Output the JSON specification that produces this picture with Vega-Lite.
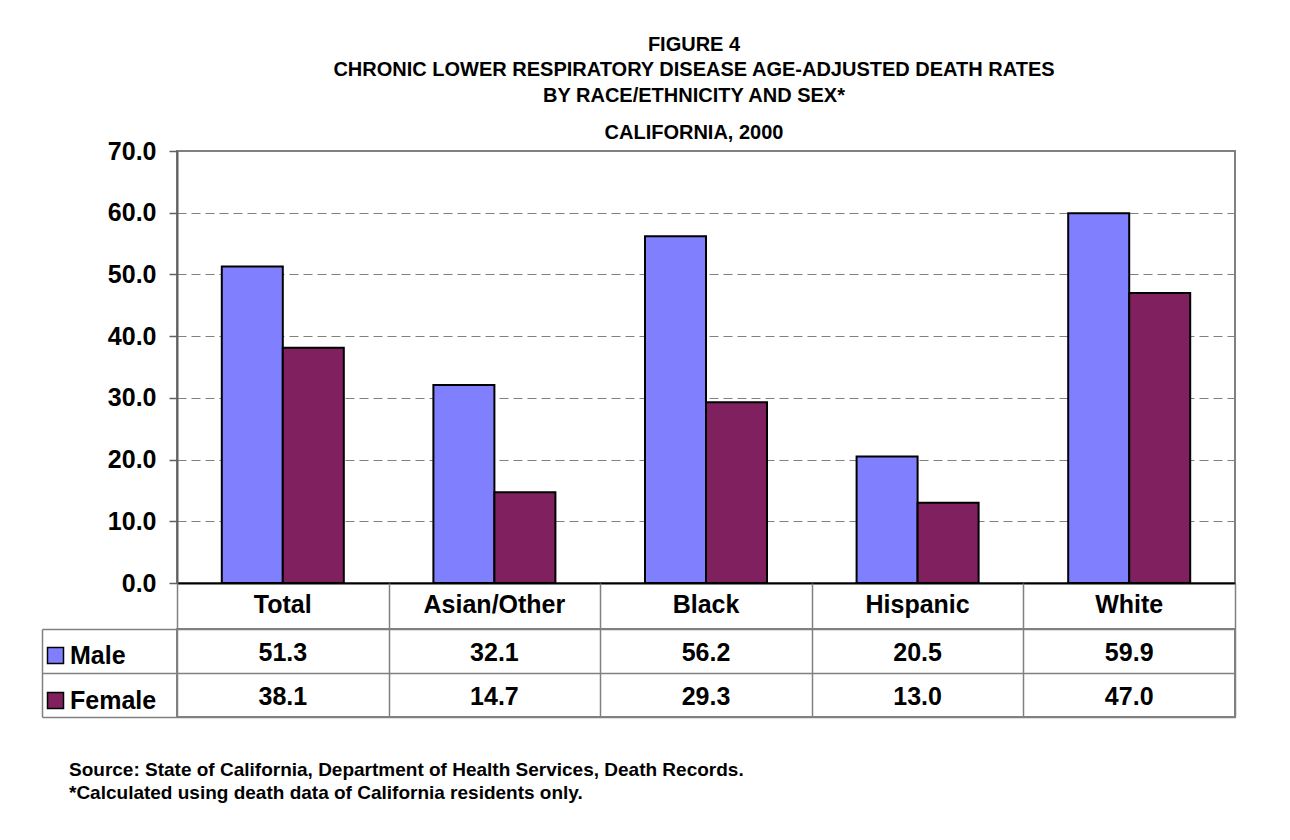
{
  "$schema": "https://vega.github.io/schema/vega-lite/v6.json",
  "background": "white",
  "padding": {"left": 40, "top": 34, "right": 40, "bottom": 30},
  "datasets": {
    "rates": [
      {"race": "Total", "sex": "Male", "value": 51.3},
      {"race": "Total", "sex": "Female", "value": 38.1},
      {"race": "Asian/Other", "sex": "Male", "value": 32.1},
      {"race": "Asian/Other", "sex": "Female", "value": 14.7},
      {"race": "Black", "sex": "Male", "value": 56.2},
      {"race": "Black", "sex": "Female", "value": 29.3},
      {"race": "Hispanic", "sex": "Male", "value": 20.5},
      {"race": "Hispanic", "sex": "Female", "value": 13.0},
      {"race": "White", "sex": "Male", "value": 59.9},
      {"race": "White", "sex": "Female", "value": 47.0}
    ]
  },
  "config": {"font": "Liberation Sans", "view": {"stroke": null}},
  "spacing": 0,
  "bounds": "flush",
  "resolve": {"scale": {"x": "independent", "y": "independent"}},
  "vconcat": [
    {
      "width": 1058,
      "height": 432,
      "data": {"name": "rates"},
      "title": {
        "text": ["FIGURE 4", "CHRONIC LOWER RESPIRATORY DISEASE AGE-ADJUSTED DEATH RATES", "BY RACE/ETHNICITY AND SEX*"],
        "subtitle": "CALIFORNIA, 2000",
        "fontSize": 20,
        "fontWeight": "bold",
        "lineHeight": 25.25,
        "subtitleFontSize": 20,
        "subtitleFontWeight": "bold",
        "subtitleColor": "black",
        "subtitlePadding": 17,
        "subtitleFont": "Liberation Sans",
        "anchor": "middle",
        "dx": -12,
        "offset": -3.5,
        "color": "black"
      },
      "view": {"stroke": "#808080", "strokeWidth": 2},
      "mark": {"type": "bar", "stroke": "black", "strokeWidth": 2},
      "encoding": {
        "x": {
          "field": "race", "type": "nominal", "sort": null,
          "scale": {"paddingInner": 0.4234, "paddingOuter": 0.2117},
          "axis": {"title": null, "labels": false, "ticks": false, "domainColor": "black", "domainWidth": 2}
        },
        "xOffset": {"field": "sex", "type": "nominal", "sort": ["Male", "Female"], "scale": {"domain": ["Male", "Female"], "paddingInner": 0, "paddingOuter": 0}},
        "y": {
          "field": "value", "type": "quantitative",
          "scale": {"domain": [0, 70]},
          "axis": {
            "title": null, "values": [0, 10, 20, 30, 40, 50, 60, 70], "format": ".1f",
            "labelFontSize": 25, "labelFontWeight": "bold", "labelColor": "black", "labelPadding": 13,
            "tickSize": 8, "tickColor": "#606060", "tickWidth": 1.5, "domainColor": "#606060", "domainWidth": 2,
            "grid": true, "gridColor": "#808080", "gridDash": [9, 5], "gridWidth": 1.2
          }
        },
        "color": {
          "field": "sex", "type": "nominal",
          "scale": {"domain": ["Male", "Female"], "range": ["#8080FF", "#80205F"]},
          "legend": {
            "orient": "none", "legendX": -134, "legendY": 492, "title": null,
            "symbolType": "square", "symbolSize": 256, "symbolStrokeColor": "black", "symbolStrokeWidth": 1.5,
            "labelFontSize": 25, "labelFontWeight": "bold", "labelColor": "black", "labelOffset": 2,
            "rowPadding": 19, "padding": 0
          }
        }
      }
    },
    {
      "width": 1058,
      "height": 46,
      "data": {"name": "rates"},
      "transform": [{"filter": "datum.sex === 'Male'"}],
      "mark": {"type": "text", "fontSize": 25, "fontWeight": "bold", "color": "black", "dy": -1},
      "encoding": {
        "x": {
          "field": "race", "type": "nominal", "sort": null,
          "scale": {"paddingInner": 0, "paddingOuter": 0},
          "axis": {"title": null, "labels": false, "ticks": false, "domain": false, "grid": true, "tickBand": "extent", "gridColor": "#808080", "gridWidth": 1.5}
        },
        "text": {"field": "race", "type": "nominal"}
      }
    },
    {
      "width": 1058,
      "height": 88,
      "data": {"name": "rates"},
      "view": {"stroke": "#808080", "strokeWidth": 2},
      "title": {
        "text": ["Source: State of California, Department of Health Services, Death Records.", "*Calculated using death data of California residents only."],
        "orient": "bottom", "anchor": "start", "frame": "group", "dx": -108, "offset": 43,
        "fontSize": 19, "fontWeight": "bold", "lineHeight": 23, "color": "black"
      },
      "mark": {"type": "text", "fontSize": 25, "fontWeight": "bold", "color": "black", "dy": 2},
      "encoding": {
        "x": {
          "field": "race", "type": "nominal", "sort": null,
          "scale": {"paddingInner": 0, "paddingOuter": 0},
          "axis": {"title": null, "labels": false, "ticks": false, "domain": false, "grid": true, "tickBand": "extent", "gridColor": "#808080", "gridWidth": 1.5}
        },
        "y": {
          "field": "sex", "type": "nominal", "sort": ["Male", "Female"],
          "scale": {"domain": ["Male", "Female"], "paddingInner": 0, "paddingOuter": 0},
          "axis": {"title": null, "labels": false, "offset": 135, "tickBand": "extent", "tickSize": -135, "tickColor": "#808080", "tickWidth": 1.5, "domainColor": "#808080", "domainWidth": 1.5, "grid": true, "gridColor": "#808080", "gridWidth": 1.5}
        },
        "text": {"field": "value", "type": "quantitative", "format": ".1f"}
      }
    }
  ]
}
